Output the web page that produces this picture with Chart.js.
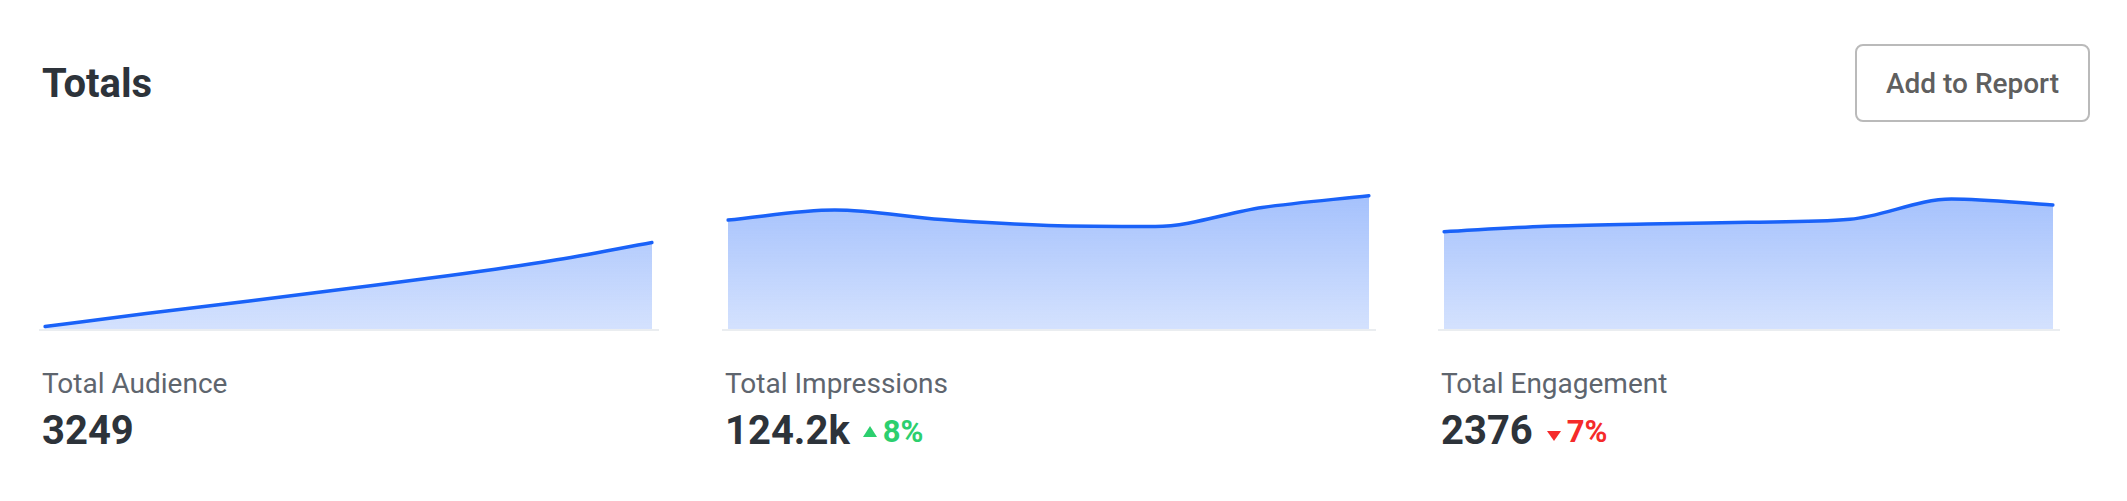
<!DOCTYPE html>
<html>
<head>
<meta charset="utf-8">
<script src="https://cdn.jsdelivr.net/npm/chart.js@4"></script>
<style>
  body { margin: 0; width: 2127px; height: 501px; background: #fff; font-family: Roboto, "Noto Sans", sans-serif; position: relative; overflow: hidden; }
  .title { position: absolute; left: 42px; top: 64px; font-size: 40px; line-height: 40px; font-weight: 700; color: #2d333a; }
  .btn { position: absolute; left: 1855px; top: 44px; width: 235px; height: 78px; box-sizing: border-box; border: 2px solid #bababa; border-radius: 8px;
         font-size: 28px; font-weight: 500; color: #5f5f5f; display: flex; align-items: center; justify-content: center; }
  .col { position: absolute; top: 179px; }
  .chartBox { border-bottom: 2px solid #eaedf0; height: 150px; }
  .label { position: absolute; left: 3px; top: 191px; font-size: 28px; line-height: 28px; color: #5e656e; white-space: nowrap; }
  .value { position: absolute; left: 3px; top: 232px; display: flex; align-items: center; white-space: nowrap; }
  .num { font-size: 40px; line-height: 40px; font-weight: 700; color: #2d333a; }
  .up, .down { display: flex; align-items: center; font-size: 31px; line-height: 31px; font-weight: 700; }
  .up { color: #2ccf6e; margin-left: 13px; }
  .down { color: #f52a2a; margin-left: 14px; }
  .triUp { width: 0; height: 0; border-left: 7px solid transparent; border-right: 7px solid transparent; border-bottom: 11px solid #2ccf6e; margin-right: 6px; }
  .triDown { width: 0; height: 0; border-left: 7px solid transparent; border-right: 7px solid transparent; border-top: 10px solid #f52a2a; margin-right: 6px; position: relative; top: 5px; }
</style>
</head>
<body>
<div class="title">Totals</div>
<div class="btn">Add to Report</div>

<div class="col" style="left:39px; width:620px;">
  <div class="chartBox"><canvas id="audienceChart" width="620" height="150"></canvas></div>
  <div class="label">Total Audience</div>
  <div class="value"><span class="num">3249</span></div>
</div>

<div class="col" style="left:722px; width:654px;">
  <div class="chartBox"><canvas id="impressionsChart" width="654" height="150"></canvas></div>
  <div class="label">Total Impressions</div>
  <div class="value"><span class="num">124.2k</span><span class="up"><span class="triUp"></span>8%</span></div>
</div>

<div class="col" style="left:1438px; width:622px;">
  <div class="chartBox"><canvas id="engagementChart" width="622" height="150"></canvas></div>
  <div class="label">Total Engagement</div>
  <div class="value"><span class="num">2376</span><span class="down"><span class="triDown"></span>7%</span></div>
</div>

<script>
var days = ['Mon', 'Tue', 'Wed', 'Thu', 'Fri', 'Sat', 'Sun'];
var audienceData = [2.5, 15.4, 27.8, 40.4, 53.4, 68.2, 86.5];
var impressionsData = [109, 119, 109.5, 103.6, 102.6, 121.5, 133.3];
var engagementData = [97.3, 102.7, 105, 106.7, 109.7, 130, 124];

var lineColor = '#1a62f8';

function fillGradient(context) {
  var chart = context.chart;
  var area = chart.chartArea;
  if (!area) return 'rgba(26, 98, 248, 0.3)';
  var grad = chart.ctx.createLinearGradient(0, area.top, 0, area.bottom);
  grad.addColorStop(0, 'rgba(26, 98, 248, 0.42)');
  grad.addColorStop(1, 'rgba(26, 98, 248, 0.19)');
  return grad;
}

const chartOptions = {
  responsive: false,
  animation: false,
  devicePixelRatio: 1,
  layout: {
    padding: { left: 6, right: 7, top: 0, bottom: 0 }
  },
  plugins: {
    legend: { display: false },
    tooltip: { enabled: false }
  },
  scales: {
    x: { display: false },
    y: { display: false, min: 0, max: 150 }
  }
}

function sparkline(id, values) {
  return new Chart(document.getElementById(id), {
    type: 'line',
    data: {
      labels: days,
      datasets: [{
        data: values,
        borderColor: lineColor,
        borderWidth: 3.5,
        borderCapStyle: 'round',
        backgroundColor: fillGradient,
        fill: 'origin',
        pointRadius: 0,
        cubicInterpolationMode: 'monotone'
      }]
    },
    options: chartOptions
  });
}

var audienceChart = sparkline('audienceChart', audienceData);
var impressionsChart = sparkline('impressionsChart', impressionsData);
var engagementChart = sparkline('engagementChart', engagementData);
</script>
</body>
</html>
